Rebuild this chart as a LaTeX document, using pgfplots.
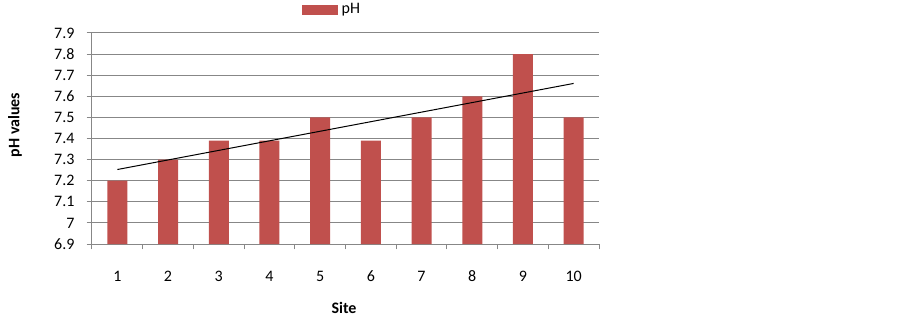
\documentclass[border=0pt]{standalone}
\usepackage{fontspec}
\setmainfont{Carlito}
\usepackage{pgfplots}
\pgfplotsset{compat=1.18}
\definecolor{barred}{HTML}{C0504D}
\definecolor{gridgray}{HTML}{878787}
\begin{document}
\fontsize{12pt}{14pt}\selectfont
\begin{tikzpicture}
\useasboundingbox (0,0) rectangle (674.25pt,238.5pt);
\begin{axis}[
  at={(69pt,55.5pt)}, anchor=south west,
  scale only axis, width=380.25pt, height=158.25pt,
  xmin=0.5, xmax=10.5, ymin=6.9, ymax=7.9,
  axis lines*=left,
  axis line style={draw=gridgray, line width=0.75pt, -},
  ytick={6.9,7,7.1,7.2,7.3,7.4,7.5,7.6,7.7,7.8,7.9},
  yticklabels={6.9,7,7.1,7.2,7.3,7.4,7.5,7.6,7.7,7.8,7.9},
  xtick={1,2,3,4,5,6,7,8,9,10},
  xticklabels={1,2,3,4,5,6,7,8,9,10},
  minor xtick={0.5,1.5,2.5,3.5,4.5,5.5,6.5,7.5,8.5,9.5,10.5},
  major x tick style={draw=none},
  tick align=outside,
  major tick length=4pt, minor tick length=4pt,
  tick style={draw=gridgray, line width=0.75pt},
  ymajorgrids,
  major grid style={draw=gridgray, line width=0.75pt},
  /pgf/number format/assume math mode=true,
  xticklabel style={yshift=-12pt},
  yticklabel style={xshift=-5pt},
  xlabel={\textbf{Site}},
  xlabel style={at={(axis description cs:0.497,-0.303)}, anchor=center},
  ylabel={\textbf{pH values}},
  ylabel style={at={(axis description cs:-0.152,0.564)}, anchor=center},
  legend style={draw=none, fill=none, at={(axis description cs:0.475,1.109)}, anchor=center, inner sep=0pt, outer sep=0pt, /tikz/every even column/.append style={column sep=0pt}},
  legend image code/.code={\fill[barred] (0pt,-4.1pt) rectangle (27pt,4.1pt);},
  legend style={nodes={inner xsep=3pt}},
  clip=true,
]
\addplot[ybar, bar width=15pt, fill=barred, draw=none] coordinates {
  (1,7.2) (2,7.3) (3,7.39) (4,7.39) (5,7.5) (6,7.39) (7,7.5) (8,7.6) (9,7.8) (10,7.5)
};
\addlegendentry{pH}
\addplot[black, line width=0.75pt, forget plot] coordinates {(1,7.253) (10,7.661)};
\end{axis}
\end{tikzpicture}
\end{document}
